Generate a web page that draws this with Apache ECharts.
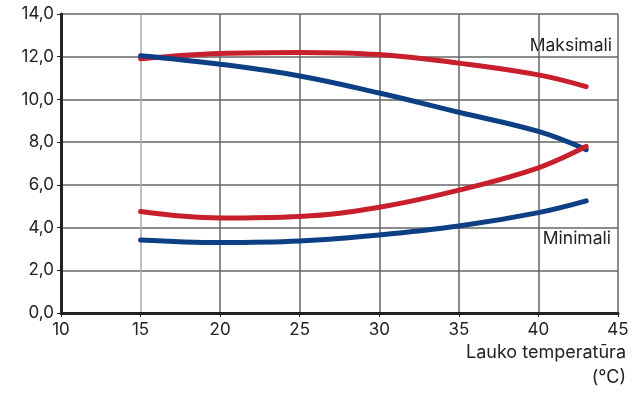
<!DOCTYPE html>
<html>
<head>
<meta charset="utf-8">
<script src="https://cdn.jsdelivr.net/npm/echarts@6/dist/echarts.min.js"></script>
<style>
  html, body { margin: 0; padding: 0; background: #fff; }
  #chart { width: 642px; height: 394px; }
</style>
</head>
<body>
<div id="chart"></div>
<script>
// outdoor temperature points (°C)
var temps = [15, 20, 25, 30, 35, 40, 43];
var maxRed  = [11.9, 12.15, 12.2, 12.1, 11.7, 11.15, 10.6];
var maxBlue = [12.05, 11.65, 11.1, 10.3, 9.4, 8.5, 7.65];
var minRed  = [4.75, 4.45, 4.52, 4.95, 5.75, 6.8, 7.8];
var minBlue = [3.42, 3.3, 3.37, 3.65, 4.07, 4.7, 5.25];
var yTicks = [0, 2, 4, 6, 8, 10, 12, 14];

var red = '#c81f2d', blue = '#0d3f84';
var font = 'Inter, Roboto, sans-serif';

function pairs(ys) {
  return temps.map(function (t, i) { return [t, ys[i]]; });
}
function line(ys, color) {
  return {
    type: 'line', data: pairs(ys), smooth: 0.4, showSymbol: false,
    lineStyle: { color: color, width: 5, cap: 'round' }, z: 5
  };
}

var chart = echarts.init(document.getElementById('chart'));
chart.setOption({
  animation: false,
  grid: { left: 61, right: 24, top: 14, bottom: 81 },
  xAxis: {
    type: 'value', min: 10, max: 45, interval: 5,
    axisLine: { show: true, onZero: false, lineStyle: { color: '#222', width: 3 } },
    axisTick: { show: true, length: 4, lineStyle: { color: '#222' } },
    axisLabel: { color: '#222', fontSize: 17, fontFamily: font, margin: 8 },
    splitLine: { show: true, lineStyle: { color: ['#666', '#aaa', '#666', '#666', '#666', '#666', '#666', '#666'], width: 1.5 } }
  },
  yAxis: {
    type: 'value', min: yTicks[0], max: yTicks[yTicks.length - 1], interval: 2,
    axisLine: { show: true, lineStyle: { color: '#222', width: 3 } },
    axisTick: { show: true, length: 4, lineStyle: { color: '#222' } },
    axisLabel: { color: '#222', fontSize: 17, fontFamily: font, margin: 7,
      formatter: function (v) { return v.toFixed(1).replace('.', ','); } },
    splitLine: { show: true, lineStyle: { color: '#666', width: 1.5 } }
  },
  series: [
    line(maxRed, red),
    line(maxBlue, blue),
    line(minRed, red),
    line(minBlue, blue)
  ],
  graphic: [
    { type: 'text', right: 30, top: 37, style: { text: 'Maksimali', fontSize: 17.5, fontFamily: font, fill: '#222' } },
    { type: 'text', right: 31, top: 230, style: { text: 'Minimali', fontSize: 17.5, fontFamily: font, fill: '#222' } },
    { type: 'text', right: 16, top: 344, style: { text: 'Lauko temperatūra', fontSize: 18, fontFamily: font, fill: '#222' } },
    { type: 'text', right: 16, top: 369, style: { text: '(°C)', fontSize: 18, fontFamily: font, fill: '#222' } }
  ]
});
</script>
</body>
</html>
